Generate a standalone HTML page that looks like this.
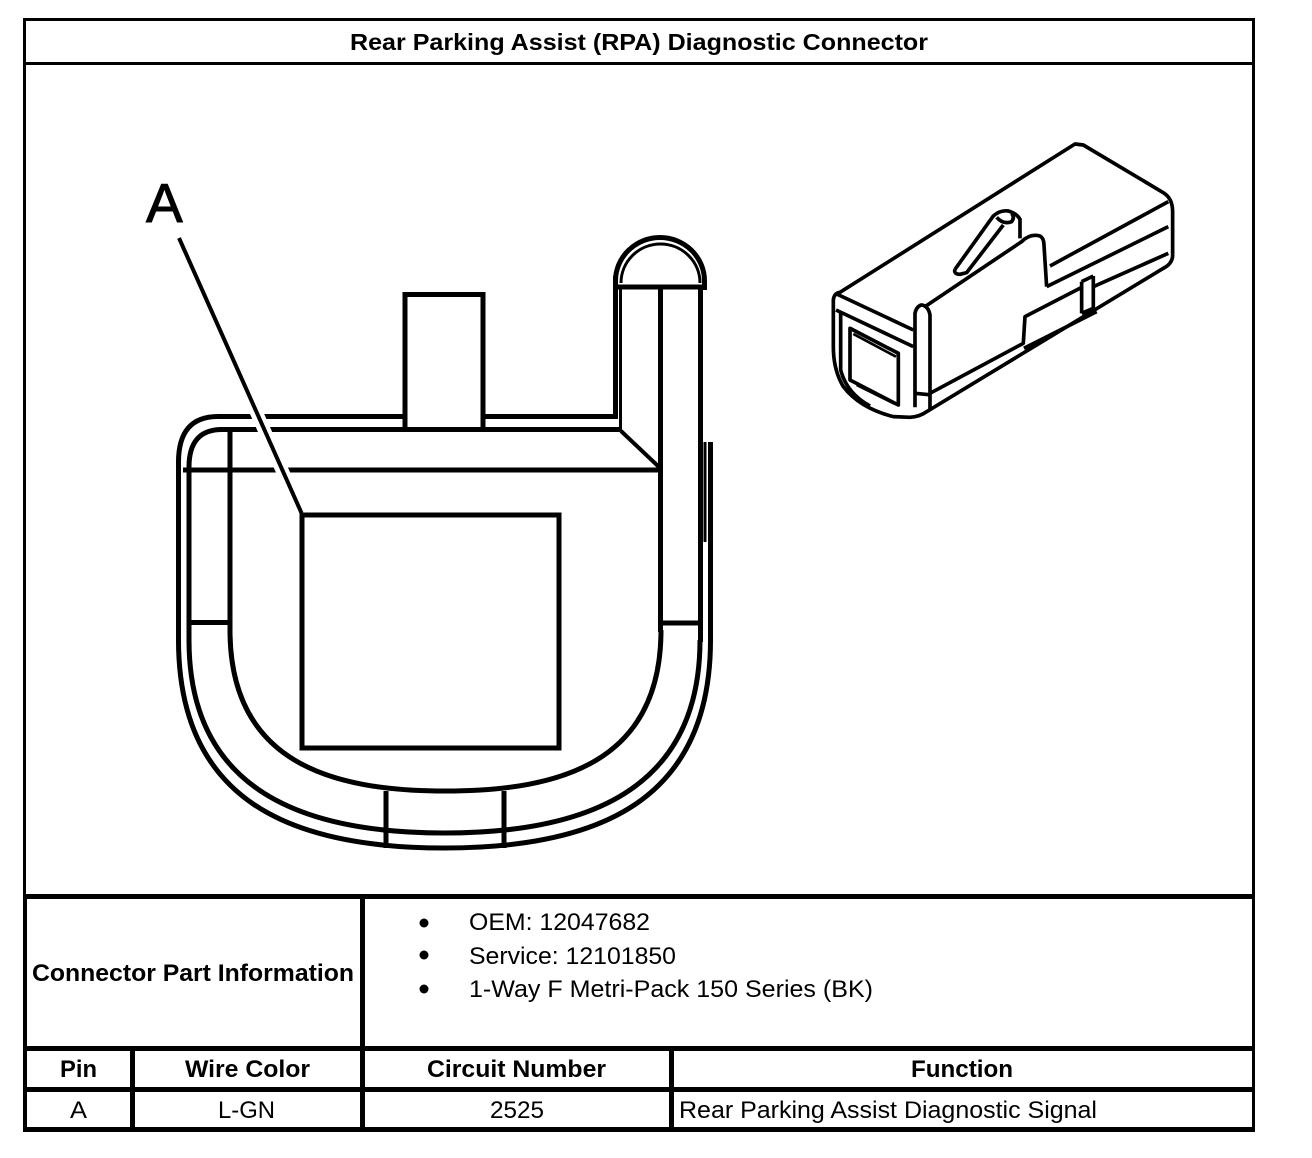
<!DOCTYPE html>
<html>
<head>
<meta charset="utf-8">
<style>
html,body{margin:0;padding:0;background:#fff;}
svg{display:block;}
text{font-family:"Liberation Sans",Arial,sans-serif;fill:#000;}
</style>
</head>
<body>
<svg width="1312" height="1158" viewBox="0 0 1312 1158" xmlns="http://www.w3.org/2000/svg">
<rect width="1312" height="1158" fill="#fff"/>

<!-- Frame -->
<g fill="#000" stroke="none">
  <rect x="23" y="18" width="1232" height="3"/>
  <rect x="23" y="62" width="1232" height="3"/>
  <rect x="23" y="18" width="3" height="1114"/>
  <rect x="23" y="894" width="4" height="238"/>
  <rect x="1252" y="18" width="3" height="1114"/>
  <rect x="23" y="894" width="1232" height="5"/>
  <rect x="23" y="1046" width="1232" height="5"/>
  <rect x="23" y="1087" width="1232" height="5"/>
  <rect x="23" y="1127" width="1232" height="5"/>
  <rect x="360" y="894" width="5" height="238"/>
  <rect x="130" y="1046" width="5" height="86"/>
  <rect x="669" y="1046" width="5" height="86"/>
</g>

<!-- Title -->
<text x="350" y="50" font-size="23" font-weight="bold" textLength="578" lengthAdjust="spacingAndGlyphs">Rear Parking Assist (RPA) Diagnostic Connector</text>

<!-- Connector face drawing -->
<g fill="none" stroke="#000" stroke-width="5">
  <rect x="405" y="294.5" width="78" height="135"/>
  <path d="M218 416.5 H405 M483 416.5 H615.5"/>
  <path d="M220 429.5 H620.5"/>
  <path d="M183 470 H660.5"/>
  <path d="M621 431 L659 467" stroke-width="4"/>
  <path d="M615.5 276 V419"/>
  <path d="M620.5 288 V431" stroke-width="3"/>
  <path d="M660.5 287 V632"/>
  <path d="M700.5 287 V642"/>
  <path d="M615.5 281 A44.5 43.5 0 0 1 704.5 281 V290"/>
  <path d="M621 283 A39.5 39 0 0 1 700 283" stroke-width="3"/>
  <path d="M615.5 287 H704.5"/>
  <path d="M710.5 442 V642"/>
  <path d="M705 442 V542" stroke-width="3"/>
  <path d="M660.5 623 H700.5 M189 622.5 H230"/>
  <path d="M178.5 642 V462 Q178.5 416.5 218 416.5"/>
  <path d="M189 642 V467 Q189 429.5 222 429.5"/>
  <path d="M230 429.5 V632"/>
  <path d="M230 630 C230 762 330 791 445.5 791 C561 791 661 762 661 630"/>
  <path d="M189 640 C189 792 305 833 444.5 833 C584 833 700 792 700 640"/>
  <path d="M178.5 640 C178.5 802 292 848 444.5 848 C597 848 710.5 802 710.5 640"/>
  <path d="M386 791 V848 M504 791 V848"/>
  <rect x="302" y="515" width="257" height="233"/>
  <path d="M250.9 400 L290.8 490" stroke="#fff" stroke-width="13"/>
  <path d="M179 238 L301.5 513" stroke-width="4"/>
</g>
<text x="146" y="222" font-size="55" stroke="#000" stroke-width="1">A</text>

<!-- Isometric connector -->
<g transform="translate(820 130) scale(0.3333)" fill="none" stroke="#000" stroke-width="11" stroke-linejoin="round">
  <path d="M60 487 L765 42 L790 45 L1030 188 Q1058 205 1058 245 L1058 378 Q1056 402 1030 415 L320 845 Q300 860 270 862 L220 860 Q120 835 70 770 Q40 720 40 650 L40 510 Q42 490 60 487 Z"/>
  <path d="M50 492 L280 600"/>
  <path d="M48 540 L280 650"/>
  <path d="M62 548 L62 720 Q80 790 150 828"/>
  <path d="M90 595 L235 670 L235 825 L90 750 Z"/>
  <path d="M100 612 L228 680" stroke-width="8"/>
  <path d="M110 765 L225 822" stroke-width="8"/>
  <path d="M285 832 L285 550 Q290 528 305 525 Q325 528 330 555 L330 838"/>
  <path d="M285 790 L335 795"/>
  <path d="M315 530 L605 335 Q630 310 660 318 Q672 325 672 345 L680 470"/>
  <path d="M680 470 L1045 290"/>
  <path d="M690 408 L1045 215"/>
  <path d="M405 418 L520 258 Q540 240 565 243 Q590 250 600 268 L600 325"/>
  <path d="M405 418 Q400 432 420 433 L440 428 L550 285"/>
  <path d="M530 262 Q550 285 575 275 Q585 262 575 250"/>
  <path d="M330 790 L610 640 L615 560 L785 472"/>
  <path d="M612 655 L830 545"/>
  <path d="M785 455 L785 550 M820 438 L820 535 M785 455 L820 438 M785 550 L820 535"/>
  <path d="M820 470 L1045 370"/>
</g>

<!-- Connector Part Information -->
<text x="32" y="981" font-size="24" font-weight="bold" textLength="322" lengthAdjust="spacingAndGlyphs">Connector Part Information</text>
<circle cx="424" cy="923" r="4.5" fill="#000"/>
<circle cx="424" cy="955" r="4.5" fill="#000"/>
<circle cx="424" cy="989" r="4.5" fill="#000"/>
<text x="469" y="930" font-size="24" textLength="181" lengthAdjust="spacingAndGlyphs">OEM: 12047682</text>
<text x="469" y="964" font-size="24" textLength="207" lengthAdjust="spacingAndGlyphs">Service: 12101850</text>
<text x="469" y="997" font-size="24" textLength="404" lengthAdjust="spacingAndGlyphs">1-Way F Metri-Pack 150 Series (BK)</text>

<!-- Header row -->
<text x="60" y="1077" font-size="24" font-weight="bold" textLength="37" lengthAdjust="spacingAndGlyphs">Pin</text>
<text x="185" y="1077" font-size="24" font-weight="bold" textLength="125" lengthAdjust="spacingAndGlyphs">Wire Color</text>
<text x="427" y="1077" font-size="24" font-weight="bold" textLength="179" lengthAdjust="spacingAndGlyphs">Circuit Number</text>
<text x="911" y="1077" font-size="24" font-weight="bold" textLength="102" lengthAdjust="spacingAndGlyphs">Function</text>

<!-- Data row -->
<text x="70" y="1118" font-size="24" textLength="17" lengthAdjust="spacingAndGlyphs">A</text>
<text x="218" y="1118" font-size="24" textLength="57" lengthAdjust="spacingAndGlyphs">L-GN</text>
<text x="490" y="1118" font-size="24" textLength="54" lengthAdjust="spacingAndGlyphs">2525</text>
<text x="679" y="1118" font-size="24" textLength="418" lengthAdjust="spacingAndGlyphs">Rear Parking Assist Diagnostic Signal</text>
</svg>
</body>
</html>
